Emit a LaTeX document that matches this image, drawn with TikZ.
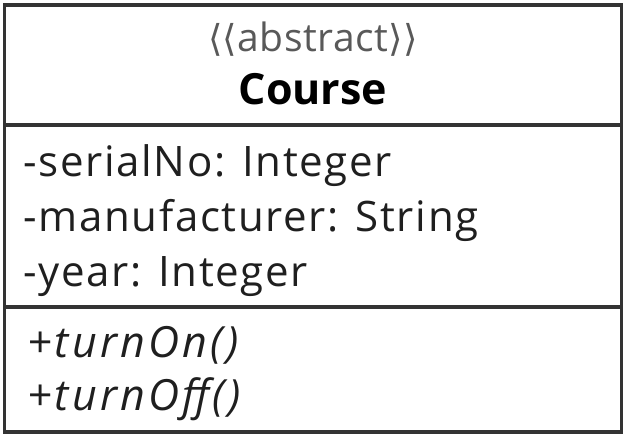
\documentclass[tikz,border=0pt]{standalone}
\usepackage{fontspec}
\setmainfont{Open Sans}
\newfontfamily\bracketfont{DejaVu Sans}
\begin{document}
\begin{tikzpicture}[x=1pt,y=-1pt,
  frame/.style={draw=black!80,line width=3.2pt},
  member/.style={anchor=base west,inner sep=0pt,text=black!88,font=\fontsize{42}{48}\selectfont\addfontfeature{LetterSpace=4}},
  opmember/.style={anchor=base west,inner sep=0pt,text=black!88,font=\fontsize{43}{48}\selectfont\itshape\addfontfeature{LetterSpace=7.5}},
  stereo/.style={anchor=base,inner sep=0pt,text=black!65,font=\fontsize{39}{44}\selectfont\addfontfeature{LetterSpace=1.5}},
  classname/.style={anchor=base,inner sep=0pt,text=black,font=\fontsize{43}{48}\selectfont\bfseries}]
\useasboundingbox (0,0) rectangle (628,444);
% class frame and compartment separators
\draw[frame] (4.5,5) rectangle (621.5,432);
\draw[frame] (4.5,125) -- (621.5,125);
\draw[frame] (4.5,307) -- (621.5,307);
% name compartment
\node[stereo] (stereotype) at (313,52) {{\bracketfont\fontsize{37}{42}\selectfont⟨⟨}abstract{\bracketfont\fontsize{37}{42}\selectfont⟩⟩}};
\node[classname] (name) at (313,104) {Course};
% attributes
\node[member] (attr1) at (23,176) {-serialNo: Integer};
\node[member] (attr2) at (23,231) {-manufacturer: String};
\node[member] (attr3) at (23,286) {-year: Integer};
% operations
\node[opmember] (op1) at (27,357) {+turnOn()};
\node[opmember] (op2) at (27,410) {+turnOff()};
\end{tikzpicture}
\end{document}
